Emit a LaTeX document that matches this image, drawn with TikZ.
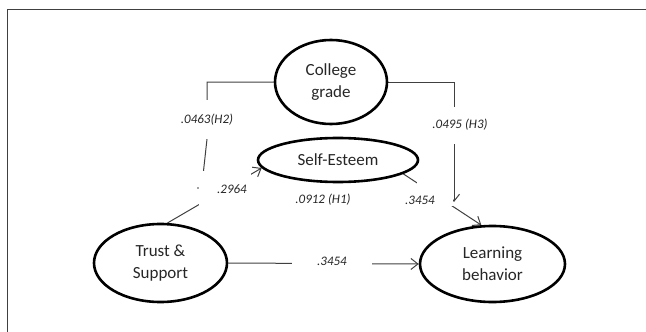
\documentclass[tikz,border=0pt]{standalone}
\usepackage{fontspec}
\setmainfont{Carlito}
\usetikzlibrary{shapes.geometric,arrows.meta,backgrounds}
\begin{document}
\begin{tikzpicture}[x=1pt,y=-1pt,
  latent/.style={ellipse,draw=black,line width=2.6pt,inner sep=0pt,align=center,font=\fontsize{17}{22}\selectfont,text=black!85},
  conn/.style={draw=black!75,line width=1pt},
  tip/.style={-{Straight Barb[length=7pt,width=11pt,line width=1pt]}},
  coef/.style={font=\fontsize{13}{15}\selectfont\itshape,text=black!85,inner sep=0pt}]
\useasboundingbox (0,0) rectangle (646,332);
\draw[black!75,line width=1.5pt] (646,9.5) -- (7.5,9.5) -- (7.5,332);

\node[latent,minimum width=112pt,minimum height=84pt] (cg) at (331,82) {College\\grade};
\node[latent,minimum width=160pt,minimum height=44pt] (se) at (338,160) {Self-Esteem};
\node[latent,minimum width=133pt,minimum height=78pt] (ts) at (160.5,263) {Trust \&\\Support};
\node[latent,minimum width=145pt,minimum height=76pt] (lb) at (492.5,264) {Learning\\behavior};

\coordinate (h3end) at (454,202);
\coordinate (h2mid) at (207,139);
\coordinate (h2end) at (200,203);

\begin{pgfonlayer}{background}
\draw[conn] (cg.west) -| (h2mid) -- (h2end);
\draw[conn,tip] (cg.east) -| (h3end);
\draw[conn,tip] (ts.80) -- (se.186);
\draw[conn,tip] (se.-12) -- (lb.106);
\draw[conn,tip] (ts.east) -- (lb.west);
\fill[white] (180,100) rectangle (235,138.5);
\fill[white] (428,107) rectangle (492,144);
\fill[white] (198.5,170.5) rectangle (251,206);
\fill[white] (417,180) rectangle (452.5,206);
\fill[white] (292,255) rectangle (372,271);
\end{pgfonlayer}

\node[coef] (l1) at (207,120) {.0463(H2)};
\node[coef] (l2) at (460,125) {.0495 (H3)};
\node[coef] (l3) at (232,189) {.2964};
\node[coef] (l4) at (323,200) {.0912 (H1)};
\node[coef] (l5) at (420,200) {.3454};
\node[coef] (l6) at (332,261) {.3454};
\fill[black!75] (198,188) circle (0.8);
\end{tikzpicture}
\end{document}
